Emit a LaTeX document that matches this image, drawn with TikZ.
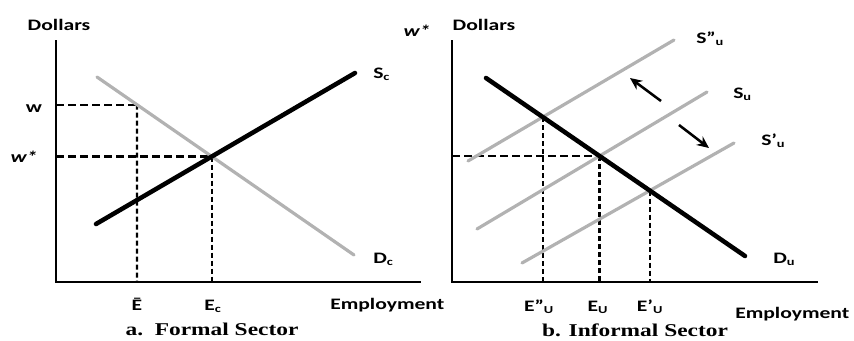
\documentclass[tikz,border=0pt]{standalone}
\usepackage{fontspec}
\setsansfont{Carlito}[FakeStretch=1.35]
\newfontfamily\capfont{Liberation Serif}[FakeStretch=1.3]
\usetikzlibrary{arrows.meta, positioning}

\tikzset{
  lbl/.style={font=\sffamily\bfseries\fontsize{12}{14}\selectfont, inner sep=0pt, anchor=base},
  lblw/.style={lbl, anchor=base west},
  capt/.style={font=\capfont\bfseries\fontsize{13.5}{16}\selectfont, inner sep=0pt, anchor=base},
  axis/.style={line width=1.6pt},
  hguide/.style={line width=1.6pt, dash pattern=on 6pt off 3pt},
  vguide/.style={line width=1.6pt, dash pattern=on 3.75pt off 2.25pt},
  blackcurve/.style={line width=3.4pt, line cap=round},
  graycurve/.style={line width=2.4pt, color=gray!60, line cap=round},
  shiftarrow/.style={line width=1.9pt, ->}
}

\begin{document}
\begin{tikzpicture}[x=0.75pt, y=-0.75pt, >={Stealth[length=9pt,width=8pt]}]
  \useasboundingbox (0,0) rectangle (854,340);

  % a. formal sector
  \coordinate (oA) at (56,282);
  \draw[axis] (56,40) coordinate (yA) -- (oA) -- (421,282) coordinate (xA);
  \coordinate (dc1) at (97,77);
  \coordinate (dc2) at (354,255);
  \coordinate (sc1) at (96,224);
  \coordinate (sc2) at (355,73);
  \coordinate (ec) at (intersection of sc1--sc2 and dc1--dc2);
  \coordinate (ebtop) at (137,40);
  \coordinate (ebar) at (137,282);
  \coordinate (wpt) at (intersection of dc1--dc2 and ebtop--ebar);
  \draw[hguide] (oA |- wpt) -- (wpt);
  \draw[vguide] (wpt) -- (ebar);
  \draw[hguide] (oA |- ec) -- (ec);
  \draw[vguide] (ec) -- (ec |- oA);
  \draw[graycurve] (dc1) -- (dc2);
  \draw[blackcurve] (sc1) -- (sc2);

  \node[lbl] (dollA) at (59,30) {Dollars};
  \node[lbl] (wlbl) at (34,112) {w};
  \node[lbl, font=\sffamily\bfseries\itshape\fontsize{12}{14}\selectfont] (wslbl) at (24,162) {w*};
  \node[lbl, font=\sffamily\bfseries\itshape\fontsize{12}{14}\selectfont] (wstop) at (417,36) {w*};
  \node[lblw] (sclbl) at (373,78) {S\textsubscript{c}};
  \node[lblw] (dclbl) at (373,263) {D\textsubscript{c}};
  \node[lbl] (eblbl) at (137,310) {Ē};
  \node[lbl] (eclbl) at (213,310) {E\textsubscript{c}};
  \node[lblw] (empA) at (330,309) {Employment};
  \node[capt] (capA) at (212,335) {a.\ \ Formal Sector};

  % b. informal sector
  \coordinate (oB) at (452,282);
  \draw[axis] (452,40) coordinate (yB) -- (oB) -- (818,282) coordinate (xB);
  \coordinate (du1) at (486,78);
  \coordinate (du2) at (745,256);
  \coordinate (s2a) at (468,161);
  \coordinate (s2b) at (674,40);
  \coordinate (s0a) at (477,229);
  \coordinate (s0b) at (707,92);
  \coordinate (s1a) at (522,263);
  \coordinate (s1b) at (734,143);
  \coordinate (eu) at (intersection of s0a--s0b and du1--du2);
  \coordinate (eu2) at (intersection of s2a--s2b and du1--du2);
  \coordinate (eu1) at (intersection of s1a--s1b and du1--du2);
  \draw[hguide] (oB |- eu) -- (eu);
  \draw[vguide] (eu) -- (eu |- oB);
  \draw[vguide] (eu2) -- (eu2 |- oB);
  \draw[vguide] (eu1) -- (eu1 |- oB);
  \draw[graycurve] (s2a) -- (s2b);
  \draw[graycurve] (s0a) -- (s0b);
  \draw[graycurve] (s1a) -- (s1b);
  \draw[blackcurve] (du1) -- (du2);

  \coordinate (upA) at (661,101);
  \coordinate (upB) at (630,78);
  \coordinate (dnA) at (679,125);
  \coordinate (dnB) at (709,148);
  \draw[shiftarrow] (upA) -- (upB);
  \draw[shiftarrow] (dnA) -- (dnB);

  \node[lbl] (dollB) at (484,30) {Dollars};
  \node[lblw] (s2lbl) at (696,43) {S”\textsubscript{u}};
  \node[lblw] (s0lbl) at (733,98) {S\textsubscript{u}};
  \node[lblw] (s1lbl) at (761,145) {S’\textsubscript{u}};
  \node[lblw] (dulbl) at (773,263) {D\textsubscript{u}};
  \node[lbl] (eu2lbl) at (539,311) {E”\textsubscript{U}};
  \node[lbl] (eulbl) at (598,311) {E\textsubscript{U}};
  \node[lbl] (eu1lbl) at (650,311) {E’\textsubscript{U}};
  \node[lblw] (empB) at (735,318) {Employment};
  \node[capt] (capB) at (635,336) {b. Informal Sector};
\end{tikzpicture}
\end{document}
